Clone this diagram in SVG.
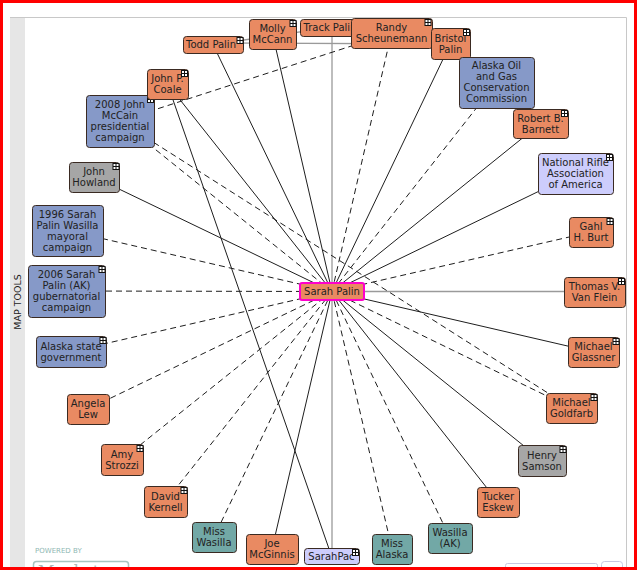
<svg xmlns="http://www.w3.org/2000/svg" width="640" height="570" viewBox="0 0 640 570">
<style>
.bg{fill:#fff}
.n rect.b{stroke:#3a2a22;stroke-width:1}
.o rect.b{fill:#E98A62}
.bl rect.b{fill:#8699C8}
.g rect.b{fill:#A6A6A6}
.lv rect.b{fill:#CDCDFC}
.tl rect.b{fill:#72A8A6}
.n text{font-family:"DejaVu Sans",Verdana,sans-serif;font-size:10px;fill:#222;text-anchor:middle}
.e line{stroke:#1e1e1e;stroke-width:1;fill:none}
.e line.d{stroke-dasharray:6,4}
.e line.gr{stroke:#9a9a9a;stroke-width:1.3}
</style>
<defs>
<g id="ic"><rect x="0.5" y="0.5" width="6" height="6" fill="#fff" stroke="#111" stroke-width="1"/><path d="M0.5 3.5H6.5M3.5 0.5V6.5" stroke="#111" stroke-width="1"/></g>
</defs>
<rect class="bg" x="0" y="0" width="640" height="570"/>
<g id="frame">
<rect x="10" y="17" width="15" height="553" fill="#e6e6e6"/>
<path d="M10 17.5H626.5V570" fill="none" stroke="#c8c8c8" stroke-width="1"/>
<text x="21" y="302" transform="rotate(-90 21 302)" font-family="'DejaVu Sans',sans-serif" font-size="9.5" fill="#222" text-anchor="middle">MAP TOOLS</text>
<text x="35" y="553" font-family="'DejaVu Sans',sans-serif" font-size="7" fill="#8fb8b3">POWERED BY</text>
<rect x="33.5" y="561.5" width="95" height="16" rx="3" fill="#fff" stroke="#a8c4c0" stroke-width="1.5"/>
<text x="38" y="577" font-family="'DejaVu Serif',serif" font-size="16" fill="#b0b8b8">Muckety</text>
<rect x="505.5" y="563.5" width="92" height="12" rx="2" fill="#fff" stroke="#c8c8e0"/>
<rect x="601.5" y="561.5" width="21" height="14" rx="3" fill="#fff" stroke="#c8c8e0"/>
</g>
<g id="connectors" class="e">
<line class="gr" x1="213" y1="44.5" x2="330" y2="27.5"/>
<line class="gr" x1="213" y1="43" x2="450.5" y2="44"/>
<line class="gr" x1="332" y1="291.5" x2="332" y2="27.5"/>
<line class="gr" x1="332" y1="291.5" x2="332" y2="556"/>
<line class="gr" x1="332" y1="291.5" x2="594.5" y2="291.5"/>
<line x1="332" y1="291.5" x2="213" y2="44.5"/>
<line x1="332" y1="291.5" x2="272.5" y2="34"/>
<line x1="332" y1="291.5" x2="450.5" y2="43.5"/>
<line x1="332" y1="291.5" x2="540.5" y2="123.5"/>
<line x1="332" y1="291.5" x2="575.5" y2="173.5"/>
<line x1="332" y1="291.5" x2="593.5" y2="352"/>
<line x1="332" y1="291.5" x2="542" y2="460.5"/>
<line x1="332" y1="291.5" x2="498" y2="502"/>
<line x1="332" y1="291.5" x2="272" y2="549"/>
<line x1="332" y1="291.5" x2="167.5" y2="84"/>
<line x1="332" y1="291.5" x2="94" y2="177"/>
<line x1="167.5" y1="84" x2="331.5" y2="556"/>
<line class="d" x1="332" y1="291.5" x2="391.5" y2="33"/>
<line class="d" x1="332" y1="291.5" x2="496.5" y2="82.5"/>
<line class="d" x1="332" y1="291.5" x2="591" y2="232"/>
<line class="d" x1="332" y1="291.5" x2="571.5" y2="408"/>
<line class="d" x1="332" y1="291.5" x2="450" y2="538"/>
<line class="d" x1="332" y1="291.5" x2="392" y2="549"/>
<line class="d" x1="332" y1="291.5" x2="214" y2="537"/>
<line class="d" x1="332" y1="291.5" x2="165.5" y2="501.5"/>
<line class="d" x1="332" y1="291.5" x2="122" y2="459.5"/>
<line class="d" x1="332" y1="291.5" x2="88" y2="409"/>
<line class="d" x1="332" y1="291.5" x2="71" y2="351.5"/>
<line class="d" x1="332" y1="291.5" x2="66.5" y2="291"/>
<line class="d" x1="332" y1="291.5" x2="67.5" y2="230.5"/>
<line class="d" x1="332" y1="291.5" x2="120" y2="121"/>
<line class="d" x1="120" y1="121" x2="391.5" y2="33"/>
<line class="d" x1="120" y1="121" x2="571.5" y2="408"/>
</g>
<g id="nodes">
<g id="todd" class="n o"><rect class="b" x="183.5" y="36.5" width="60" height="17" rx="3"/><text x="211" y="48.1">Todd Palin</text><use href="#ic" x="236.5" y="37"/></g>
<g id="molly" class="n o"><rect class="b" x="249.5" y="19.5" width="47" height="30" rx="3"/><text x="272.5" y="32.1">Molly</text><text x="272.5" y="43.1">McCann</text><use href="#ic" x="289.5" y="20"/></g>
<g id="track" class="n o"><rect class="b" x="300.5" y="19.5" width="60" height="17" rx="3"/><text x="330" y="31.1">Track Palin</text></g>
<g id="randy" class="n o"><rect class="b" x="351.5" y="18.5" width="81" height="30" rx="3"/><text x="391.5" y="31.1">Randy</text><text x="391.5" y="42.1">Scheunemann</text><use href="#ic" x="424.5" y="19"/></g>
<g id="bristol" class="n o"><rect class="b" x="431.5" y="28.5" width="39" height="31" rx="3"/><text x="450.5" y="41.6">Bristol</text><text x="450.5" y="52.8">Palin</text><use href="#ic" x="463" y="29"/></g>
<g id="aogcc" class="n bl"><rect class="b" x="459.5" y="57.5" width="75" height="51" rx="3"/><text x="496.5" y="69.4">Alaska Oil</text><text x="496.5" y="80.4">and Gas</text><text x="496.5" y="91.4">Conservation</text><text x="496.5" y="102.4">Commission</text></g>
<g id="barnett" class="n o"><rect class="b" x="513.5" y="109.5" width="55" height="29" rx="3"/><text x="540.5" y="121.6">Robert B.</text><text x="540.5" y="132.6">Barnett</text><use href="#ic" x="561" y="110"/></g>
<g id="nra" class="n lv"><rect class="b" x="538.5" y="153.5" width="75" height="41" rx="3"/><text x="575.5" y="166">National Rifle</text><text x="575.5" y="177">Association</text><text x="575.5" y="188">of America</text><use href="#ic" x="606" y="154"/></g>
<g id="gahl" class="n o"><rect class="b" x="569.5" y="217.5" width="44" height="30" rx="3"/><text x="591" y="230.1">Gahl</text><text x="591" y="241.1">H. Burt</text><use href="#ic" x="606.5" y="218"/></g>
<g id="vanflein" class="n o"><rect class="b" x="564.5" y="277.5" width="61" height="30" rx="3"/><text x="594.5" y="290.1">Thomas V.</text><text x="594.5" y="301.1">Van Flein</text><use href="#ic" x="618" y="278"/></g>
<g id="glassner" class="n o"><rect class="b" x="568.5" y="337.5" width="51" height="30" rx="3"/><text x="593.5" y="350.1">Michael</text><text x="593.5" y="361.1">Glassner</text><use href="#ic" x="612.5" y="338"/></g>
<g id="goldfarb" class="n o"><rect class="b" x="546.5" y="393.5" width="51" height="30" rx="3"/><text x="571.5" y="406.1">Michael</text><text x="571.5" y="417.1">Goldfarb</text><use href="#ic" x="590.5" y="394"/></g>
<g id="samson" class="n g"><rect class="b" x="518.5" y="445.5" width="48" height="31" rx="3"/><text x="542" y="458.6">Henry</text><text x="542" y="469.6">Samson</text><use href="#ic" x="559.5" y="446"/></g>
<g id="eskew" class="n o"><rect class="b" x="477.5" y="487.5" width="42" height="30" rx="3"/><text x="498" y="500.1">Tucker</text><text x="498" y="511.1">Eskew</text></g>
<g id="wasillaak" class="n tl"><rect class="b" x="428.5" y="523.5" width="44" height="30" rx="3"/><text x="450" y="536.1">Wasilla</text><text x="450" y="547.1">(AK)</text></g>
<g id="missalaska" class="n tl"><rect class="b" x="372.5" y="534.5" width="40" height="30" rx="3"/><text x="392" y="547.1">Miss</text><text x="392" y="558.1">Alaska</text></g>
<g id="sarahpac" class="n lv"><rect class="b" x="304.5" y="548.5" width="55" height="16" rx="3"/><text x="331.5" y="560">SarahPac</text><use href="#ic" x="352" y="549"/></g>
<g id="mcginnis" class="n o"><rect class="b" x="246.5" y="534.5" width="52" height="30" rx="3"/><text x="272" y="547.1">Joe</text><text x="272" y="558.1">McGinnis</text></g>
<g id="misswasilla" class="n tl"><rect class="b" x="192.5" y="522.5" width="44" height="30" rx="3"/><text x="214" y="535.1">Miss</text><text x="214" y="546.1">Wasilla</text></g>
<g id="kernell" class="n o"><rect class="b" x="144.5" y="486.5" width="43" height="31" rx="3"/><text x="165.5" y="499.6">David</text><text x="165.5" y="510.6">Kernell</text><use href="#ic" x="180.5" y="487"/></g>
<g id="strozzi" class="n o"><rect class="b" x="101.5" y="444.5" width="42" height="31" rx="3"/><text x="122" y="457.6">Amy</text><text x="122" y="468.6">Strozzi</text><use href="#ic" x="136.5" y="445"/></g>
<g id="lew" class="n o"><rect class="b" x="67.5" y="394.5" width="42" height="30" rx="3"/><text x="88" y="407.1">Angela</text><text x="88" y="418.1">Lew</text></g>
<g id="akstate" class="n bl"><rect class="b" x="36.5" y="336.5" width="70" height="31" rx="3"/><text x="71" y="349.6">Alaska state</text><text x="71" y="360.6">government</text><use href="#ic" x="99.5" y="337"/></g>
<g id="c2006" class="n bl"><rect class="b" x="28.5" y="265.5" width="77" height="52" rx="3"/><text x="66.5" y="278.1">2006 Sarah</text><text x="66.5" y="289.2">Palin (AK)</text><text x="66.5" y="300.3">gubernatorial</text><text x="66.5" y="311.3">campaign</text><use href="#ic" x="98.5" y="266"/></g>
<g id="c1996" class="n bl"><rect class="b" x="32.5" y="205.5" width="71" height="51" rx="3"/><text x="67.5" y="217.6">1996 Sarah</text><text x="67.5" y="228.6">Palin Wasilla</text><text x="67.5" y="239.6">mayoral</text><text x="67.5" y="250.6">campaign</text></g>
<g id="howland" class="n g"><rect class="b" x="69.5" y="162.5" width="50" height="30" rx="3"/><text x="94" y="175.1">John</text><text x="94" y="186.1">Howland</text><use href="#ic" x="112.5" y="163"/></g>
<g id="c2008" class="n bl"><rect class="b" x="86.5" y="95.5" width="68" height="52" rx="3"/><text x="120" y="108.1">2008 John</text><text x="120" y="119.1">McCain</text><text x="120" y="130.1">presidential</text><text x="120" y="141.1">campaign</text><use href="#ic" x="147" y="96"/></g>
<g id="coale" class="n o"><rect class="b" x="147.5" y="69.5" width="41" height="30" rx="3"/><text x="167.5" y="82.1">John P.</text><text x="167.5" y="93.1">Coale</text><use href="#ic" x="181" y="70"/></g>
<g id="palin"><rect x="300" y="283" width="64" height="17" rx="2" fill="#E98A62" stroke="#ff00cc" stroke-width="2"/><text x="332" y="295.3" font-family="'DejaVu Sans',sans-serif" font-size="10" fill="#222" text-anchor="middle">Sarah Palin</text></g>
</g>
<rect x="1.5" y="1.5" width="634" height="567" fill="none" stroke="#ff0000" stroke-width="3"/>
</svg>
